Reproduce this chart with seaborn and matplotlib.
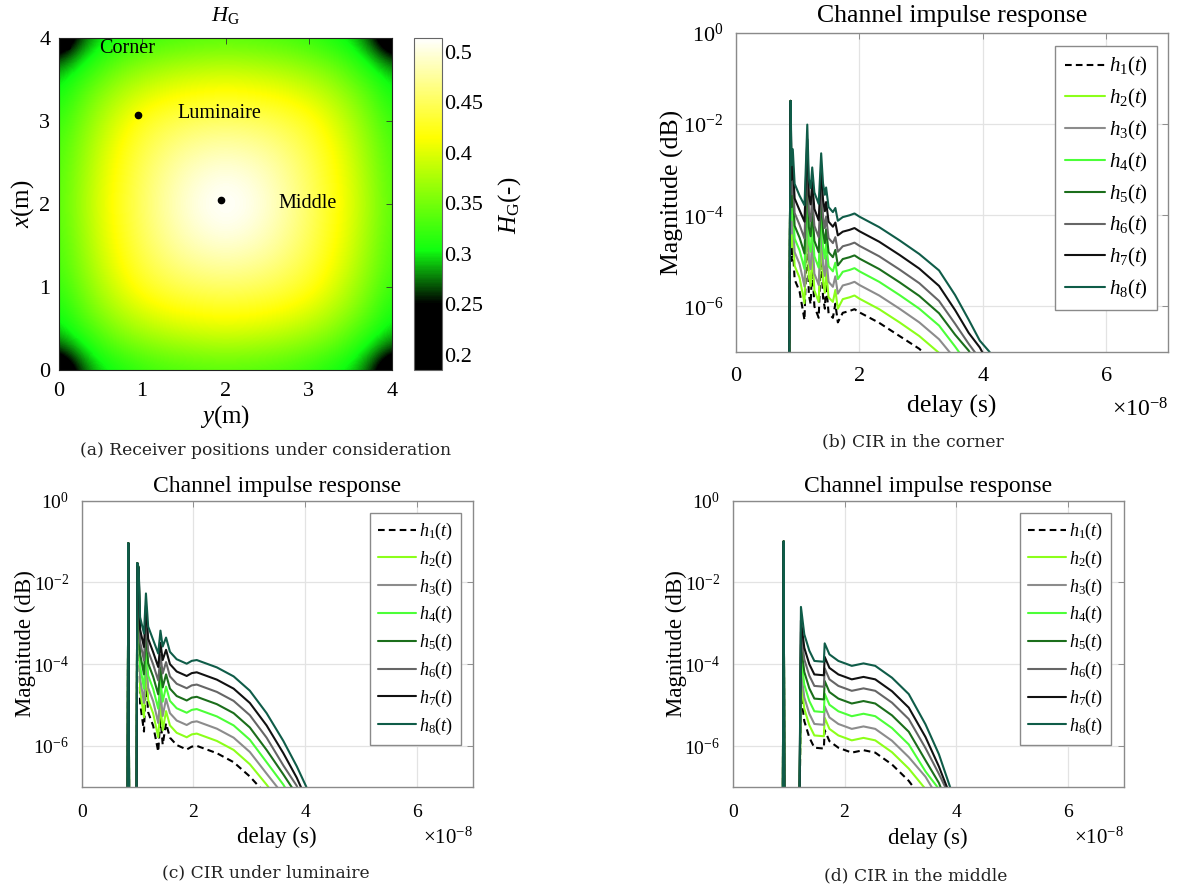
import numpy as np
import pandas as pd
import matplotlib
matplotlib.use("Agg")
import matplotlib.pyplot as plt
from matplotlib.colors import LinearSegmentedColormap
from matplotlib.ticker import FuncFormatter, NullLocator
import seaborn as sns

sns.set_theme(style="white")
plt.rcParams.update({
    "font.family": ["Liberation Serif", "DejaVu Serif"],
    "mathtext.fontset": "custom",
    "mathtext.rm": "Liberation Serif",
    "mathtext.it": "Liberation Serif:italic",
    "mathtext.bf": "Liberation Serif:bold",
    "axes.unicode_minus": False,
    "text.color": "black",
    "axes.labelcolor": "black",
    "xtick.color": "black",
    "ytick.color": "black",
})

# ---------------------------------------------------------------- data
# Channel gain H_G over the 4 m x 4 m receiver plane, one quadrant on a
# 0.25 m grid, indexed by distance (m) from the two nearest walls.
wall_dist = [0.0, 0.25, 0.5, 0.75, 1.0, 1.25, 1.5, 1.75, 2.0]
hg_quadrant = [
    [0.190, 0.262, 0.295, 0.308, 0.320, 0.328, 0.332, 0.335, 0.336],
    [0.262, 0.292, 0.318, 0.336, 0.348, 0.357, 0.362, 0.366, 0.368],
    [0.295, 0.318, 0.342, 0.364, 0.378, 0.388, 0.395, 0.399, 0.401],
    [0.308, 0.336, 0.364, 0.386, 0.403, 0.415, 0.422, 0.426, 0.428],
    [0.320, 0.348, 0.378, 0.403, 0.425, 0.438, 0.447, 0.452, 0.454],
    [0.328, 0.357, 0.388, 0.415, 0.438, 0.454, 0.466, 0.473, 0.476],
    [0.332, 0.362, 0.395, 0.422, 0.447, 0.466, 0.481, 0.490, 0.494],
    [0.335, 0.366, 0.399, 0.426, 0.452, 0.473, 0.490, 0.502, 0.508],
    [0.336, 0.368, 0.401, 0.428, 0.454, 0.476, 0.494, 0.508, 0.514],
]
room_size = 4.0
hg_ticks = [0.2, 0.25, 0.3, 0.35, 0.4, 0.45, 0.5]
hg_range = [0.185, 0.514]

receiver_names = ["Corner", "Luminaire", "Middle"]
receiver_y = [0.10, 0.95, 1.95]
receiver_x = [3.90, 3.07, 2.05]

curve_names = ["h1", "h2", "h3", "h4", "h5", "h6", "h7", "h8"]
curve_labels = [r"$\mathit{h}_{\mathit{%d}}\mathit{(t)}$" % k for k in range(1, 9)]
curve_colors = ["#000000", "#8CFF1A", "#8C8C8C", "#4CFF38",
                "#1B6E1B", "#666666", "#111111", "#0F5C48"]

# CIR in the corner: delay in units of 1e-8 s, magnitude as log10
corner_delay = [0.86, 0.885, 0.90, 0.92, 0.95, 1.03, 1.11, 1.155, 1.18, 1.21,
                1.235, 1.27, 1.34, 1.38, 1.41, 1.44, 1.46, 1.50, 1.57, 1.61,
                1.65, 1.73, 1.84, 1.92, 2.00, 2.32, 2.65, 2.97, 3.29, 3.55,
                3.77, 3.95, 4.11, 4.25]
corner_h1 = [-8, -1.49, -5.00, -4.65, -5.41, -5.67, -6.30, -4.11, -5.75, -5.95,
             -5.05, -6.00, -6.25, -4.74, -5.80, -6.05, -5.49, -6.15, -6.25, -5.94,
             -6.35, -6.14, -6.10, -6.06, -6.13, -6.36, -6.65, -6.93, -7.35, -7.80,
             -8.20, -8.60, -9.00, -9.40]
corner_h2 = [-8, -1.49, -4.70, -4.35, -5.11, -5.37, -5.93, -3.81, -5.35, -5.55,
             -4.75, -5.65, -5.90, -4.44, -5.45, -5.70, -5.19, -5.80, -5.90, -5.64,
             -6.05, -5.84, -5.80, -5.76, -5.83, -6.06, -6.35, -6.65, -7.02, -7.50,
             -7.90, -8.30, -8.70, -9.00]
corner_h3 = [-8, -1.49, -4.40, -4.05, -4.81, -5.07, -5.56, -3.51, -4.98, -5.18,
             -4.45, -5.28, -5.53, -4.14, -5.08, -5.33, -4.89, -5.46, -5.57, -5.34,
             -5.72, -5.54, -5.50, -5.46, -5.53, -5.76, -6.05, -6.35, -6.72, -7.15,
             -7.60, -8.00, -8.40, -8.80]
corner_h4 = [-8, -1.49, -4.10, -3.75, -4.51, -4.77, -5.18, -3.21, -4.60, -4.80,
             -4.15, -4.90, -5.15, -3.84, -4.70, -4.95, -4.59, -5.12, -5.23, -5.04,
             -5.40, -5.24, -5.20, -5.16, -5.23, -5.46, -5.75, -6.05, -6.42, -6.88,
             -7.30, -7.80, -8.20, -8.60]
corner_h5 = [-8, -1.49, -3.82, -3.47, -4.23, -4.49, -4.84, -2.93, -4.26, -4.46,
             -3.87, -4.56, -4.81, -3.56, -4.36, -4.61, -4.31, -4.81, -4.92, -4.76,
             -5.10, -4.96, -4.92, -4.88, -4.95, -5.18, -5.47, -5.77, -6.15, -6.62,
             -6.97, -7.40, -7.80, -8.20]
corner_h6 = [-8, -1.49, -3.54, -3.19, -3.95, -4.21, -4.51, -2.65, -3.93, -4.13,
             -3.59, -4.23, -4.48, -3.28, -4.03, -4.28, -4.03, -4.50, -4.61, -4.48,
             -4.80, -4.68, -4.64, -4.60, -4.67, -4.90, -5.19, -5.49, -5.88, -6.38,
             -6.82, -7.15, -7.60, -8.00]
corner_h7 = [-8, -1.49, -3.22, -2.87, -3.63, -3.89, -4.14, -2.33, -3.56, -3.76,
             -3.27, -3.86, -4.11, -2.96, -3.66, -3.91, -3.71, -4.14, -4.25, -4.16,
             -4.44, -4.36, -4.32, -4.28, -4.35, -4.58, -4.87, -5.17, -5.55, -6.08,
             -6.58, -6.90, -7.30, -8.00]
corner_h8 = [-8, -1.49, -2.90, -2.55, -3.31, -3.57, -3.78, -2.01, -3.20, -3.40,
             -2.95, -3.50, -3.75, -2.64, -3.30, -3.55, -3.39, -3.82, -3.93, -3.84,
             -4.12, -4.04, -4.00, -3.96, -4.03, -4.26, -4.55, -4.85, -5.21, -5.75,
             -6.29, -6.75, -7.00, -7.60]

# CIR under the luminaire
lum_delay = [0.82, 0.835, 0.85, 0.98, 0.996, 1.02, 1.045, 1.115, 1.15, 1.19,
             1.28, 1.37, 1.41, 1.45, 1.51, 1.58, 1.70, 1.88, 1.97, 2.06,
             2.42, 2.72, 3.01, 3.31, 3.61, 3.85, 4.02, 4.12]
lum_h1 = [-8, -1.04, -8, -8, -1.53, -1.66, -4.95, -5.65, -4.37, -5.18,
          -5.51, -6.14, -5.28, -5.97, -5.45, -5.80, -5.98, -6.09, -6.02, -6.00,
          -6.18, -6.40, -6.75, -7.20, -7.80, -8.30, -8.80, -9.00]
lum_h2 = [-8, -1.04, -8, -8, -1.53, -1.66, -4.65, -5.30, -4.07, -4.88,
          -5.21, -5.79, -4.98, -5.62, -5.15, -5.50, -5.68, -5.79, -5.72, -5.70,
          -5.88, -6.10, -6.45, -6.95, -7.50, -8.00, -8.50, -8.80]
lum_h3 = [-8, -1.04, -8, -8, -1.53, -1.66, -4.35, -4.95, -3.77, -4.58,
          -4.91, -5.44, -4.68, -5.27, -4.85, -5.20, -5.38, -5.49, -5.42, -5.40,
          -5.58, -5.80, -6.15, -6.68, -7.20, -7.80, -8.30, -8.60]
lum_h4 = [-8, -1.04, -8, -8, -1.53, -1.66, -4.05, -4.60, -3.47, -4.28,
          -4.61, -5.09, -4.38, -4.92, -4.55, -4.90, -5.08, -5.19, -5.12, -5.10,
          -5.28, -5.50, -5.85, -6.40, -6.95, -7.50, -8.00, -8.40]
lum_h5 = [-8, -1.04, -8, -8, -1.53, -1.66, -3.75, -4.25, -3.17, -3.98,
          -4.31, -4.74, -4.08, -4.57, -4.25, -4.60, -4.78, -4.89, -4.82, -4.80,
          -4.98, -5.20, -5.55, -6.10, -6.70, -7.20, -7.80, -8.20]
lum_h6 = [-8, -1.04, -8, -8, -1.53, -1.66, -3.45, -3.91, -2.87, -3.68,
          -4.01, -4.40, -3.78, -4.23, -3.95, -4.30, -4.48, -4.59, -4.52, -4.50,
          -4.68, -4.90, -5.25, -5.80, -6.48, -6.98, -7.60, -8.00]
lum_h7 = [-8, -1.04, -8, -8, -1.53, -1.66, -3.15, -3.58, -2.57, -3.38,
          -3.71, -4.07, -3.48, -3.90, -3.65, -4.00, -4.18, -4.29, -4.22, -4.20,
          -4.38, -4.60, -4.95, -5.50, -6.18, -6.78, -7.30, -7.80]
lum_h8 = [-8, -1.04, -8, -8, -1.53, -1.66, -2.85, -3.25, -2.27, -3.08,
          -3.41, -3.74, -3.18, -3.57, -3.35, -3.70, -3.88, -3.99, -3.92, -3.90,
          -4.08, -4.30, -4.65, -5.20, -5.88, -6.50, -7.00, -7.40]

# CIR in the middle of the room
mid_delay = [0.895, 0.91, 0.925, 1.19, 1.22, 1.28, 1.37, 1.46, 1.63, 1.645,
             1.73, 1.89, 2.13, 2.34, 2.55, 2.85, 3.15, 3.45, 3.69, 3.89, 3.98]
mid_h1 = [-8, -1.0, -8, -8, -4.72, -5.39, -5.79, -6.04, -6.06, -5.61,
          -5.88, -6.04, -6.16, -6.10, -6.16, -6.45, -6.85, -7.40, -8.00, -8.60, -9.00]
mid_h2 = [-8, -1.0, -8, -8, -4.42, -5.09, -5.49, -5.74, -5.76, -5.31,
          -5.58, -5.74, -5.86, -5.80, -5.86, -6.15, -6.55, -7.05, -7.60, -8.20, -8.60]
mid_h3 = [-8, -1.0, -8, -8, -4.14, -4.81, -5.21, -5.46, -5.48, -5.03,
          -5.30, -5.46, -5.58, -5.52, -5.58, -5.87, -6.27, -6.75, -7.30, -8.00, -8.40]
mid_h4 = [-8, -1.0, -8, -8, -3.83, -4.50, -4.90, -5.15, -5.17, -4.72,
          -4.99, -5.15, -5.27, -5.21, -5.27, -5.56, -5.96, -6.62, -7.05, -7.90, -8.20]
mid_h5 = [-8, -1.0, -8, -8, -3.52, -4.19, -4.59, -4.84, -4.86, -4.41,
          -4.68, -4.84, -4.96, -4.90, -4.96, -5.25, -5.65, -6.35, -6.90, -7.60, -8.00]
mid_h6 = [-8, -1.0, -8, -8, -3.21, -3.88, -4.28, -4.53, -4.55, -4.10,
          -4.37, -4.53, -4.65, -4.59, -4.65, -4.94, -5.34, -6.05, -6.68, -7.25, -7.70]
mid_h7 = [-8, -1.0, -8, -8, -2.93, -3.60, -4.00, -4.25, -4.27, -3.82,
          -4.09, -4.25, -4.37, -4.31, -4.37, -4.66, -5.06, -5.78, -6.50, -7.20, -7.70]
mid_h8 = [-8, -1.0, -8, -8, -2.60, -3.27, -3.67, -3.92, -3.94, -3.49,
          -3.76, -3.92, -4.04, -3.98, -4.04, -4.33, -4.73, -5.47, -6.20, -7.00, -7.40]

# ---------------------------------------------------------------- figure
W, H = 1186, 891
fig = plt.figure(figsize=(W / 100, H / 100), dpi=100)


def box(left, top, right, bottom):
    return [left / W, 1 - bottom / H, (right - left) / W, (bottom - top) / H]


# ---- (a) channel gain map
ax_a = fig.add_axes(box(58.7, 37.7, 392.3, 370))
cax = fig.add_axes(box(414, 37.7, 441.7, 370))

hg_cmap = LinearSegmentedColormap.from_list(
    "hg", [(0.0, "#000000"), (0.20, "#000000"), (0.36, "#10FF10"),
           (0.70, "#FFFF00"), (1.0, "#FFFFFF")])

q = np.array(hg_quadrant)
n = len(wall_dist)
mirror = np.concatenate([np.arange(n), np.arange(n - 2, -1, -1)])
field = q[np.ix_(mirror, mirror)]
step = wall_dist[1] - wall_dist[0]
img = ax_a.imshow(field, origin="lower", cmap=hg_cmap,
                  vmin=hg_range[0], vmax=hg_range[1],
                  extent=(-step / 2, room_size + step / 2,
                          -step / 2, room_size + step / 2),
                  interpolation="bicubic", aspect="auto")
ax_a.plot(receiver_y, receiver_x, "o", color="black", ms=4.5, zorder=3)
label_pos = [(0.48, 3.864), (1.42, 3.09), (2.63, 2.007)]
for name, (ly, lx) in zip(receiver_names, label_pos):
    ax_a.text(ly, lx, name, ha="left", va="center", fontsize=14.5)
ax_a.set_xlim(0, room_size)
ax_a.set_ylim(0, room_size)
ax_a.set_xticks(range(5))
ax_a.set_yticks(range(5))
ax_a.tick_params(direction="in", length=4, width=0.6, labelsize=16,
                 top=True, right=True, pad=6, color="#333333")
ax_a.tick_params(axis="x", pad=9)
ax_a.set_xlabel("$y$(m)", fontsize=18, labelpad=1)
ax_a.set_ylabel("$x$(m)", fontsize=18, labelpad=2)
ax_a.set_title(r"$H_{\mathrm{G}}$", fontsize=16, pad=12)
for s in ax_a.spines.values():
    s.set_color("#222222")
    s.set_linewidth(0.8)

cb = fig.colorbar(img, cax=cax, ticks=hg_ticks)
cb.ax.set_yticklabels([f"{t:g}" for t in hg_ticks])
cax.tick_params(direction="in", length=3, width=0.6, labelsize=16,
                left=True, right=True, pad=2, color="#555555")
cb.outline.set_edgecolor("#666666")
cb.outline.set_linewidth(0.8)
fig.text(510 / W, 1 - 205 / H, r"$H_{\mathrm{G}}$(-)", rotation=90,
         ha="center", va="center", fontsize=18)


# ---- (b)-(d) channel impulse responses
def cir_frame(delay, curves):
    parts = []
    for name, logmag in zip(curve_names, curves):
        parts.append(pd.DataFrame({
            "delay": np.asarray(delay, float) * 1e-8,
            "mag": 10.0 ** np.asarray(logmag, float),
            "curve": name,
        }))
    return pd.concat(parts, ignore_index=True)


def cir_panel(ax, df, fs_tick, fs_label, fs_title, fs_leg, leg_anchor,
              leg_spacing, handle_len, title_pad, xpad, xlabelpad, ylabelpad):
    dashes = {n: "" for n in curve_names}
    dashes["h1"] = (3.2, 2.0)
    sns.lineplot(data=df, x="delay", y="mag", hue="curve", style="curve",
                 hue_order=curve_names, style_order=curve_names,
                 palette=dict(zip(curve_names, curve_colors)), dashes=dashes,
                 sort=False, estimator=None, lw=1.5, legend=False, ax=ax)
    ax.set_yscale("log")
    ax.set_ylim(1e-7, 1)
    ax.set_xlim(0, 7e-8)
    ax.set_xticks([0, 2e-8, 4e-8, 6e-8])
    ax.xaxis.set_major_formatter(FuncFormatter(lambda v, p: f"{v * 1e8:.0f}"))
    ax.set_yticks([1, 1e-2, 1e-4, 1e-6])
    ax.yaxis.set_minor_locator(NullLocator())
    ax.grid(True, color="#E3E3E3", lw=0.9)
    ax.set_axisbelow(True)
    ax.tick_params(direction="in", length=4, width=0.6, labelsize=fs_tick,
                   top=True, right=True, color="#808080")
    ax.tick_params(axis="x", pad=xpad)
    ax.tick_params(axis="y", pad=9)
    for s in ax.spines.values():
        s.set_color("#8A8A8A")
        s.set_linewidth(1.0)
    ax.set_xlabel("delay (s)", fontsize=fs_label, labelpad=xlabelpad)
    ax.set_ylabel("Magnitude (dB)", fontsize=fs_label, labelpad=ylabelpad)
    ax.set_title("Channel impulse response", fontsize=fs_title, pad=title_pad)
    ax.text(1.0, -0.18, r"$\times10^{-8}$", transform=ax.transAxes,
            ha="right", va="center", fontsize=fs_tick + 1)
    lines = ax.get_lines()[:len(curve_names)]
    leg = ax.legend(lines, curve_labels, loc="upper right",
                    bbox_to_anchor=leg_anchor, borderaxespad=0,
                    fontsize=fs_leg, frameon=True, fancybox=False,
                    framealpha=1, edgecolor="#8A8A8A",
                    handlelength=handle_len, handletextpad=0.15,
                    labelspacing=leg_spacing, borderpad=0.45)
    leg.get_frame().set_linewidth(1.0)


ax_b = fig.add_axes(box(736, 33, 1168, 352))
cir_panel(ax_b, cir_frame(corner_delay, [corner_h1, corner_h2, corner_h3, corner_h4,
                                         corner_h5, corner_h6, corner_h7, corner_h8]),
          fs_tick=16, fs_label=18.5, fs_title=18.5, fs_leg=15,
          leg_anchor=(0.9745, 0.959), leg_spacing=0.42, handle_len=1.95,
          title_pad=8, xpad=11, xlabelpad=6, ylabelpad=-1)

ax_c = fig.add_axes(box(81.7, 500.7, 472.7, 786.7))
cir_panel(ax_c, cir_frame(lum_delay, [lum_h1, lum_h2, lum_h3, lum_h4,
                                      lum_h5, lum_h6, lum_h7, lum_h8]),
          fs_tick=14, fs_label=16.5, fs_title=17, fs_leg=13,
          leg_anchor=(0.970, 0.958), leg_spacing=0.37, handle_len=2.1,
          title_pad=6, xpad=12.5, xlabelpad=4, ylabelpad=-2)

ax_d = fig.add_axes(box(732.8, 500.5, 1123.8, 787))
cir_panel(ax_d, cir_frame(mid_delay, [mid_h1, mid_h2, mid_h3, mid_h4,
                                      mid_h5, mid_h6, mid_h7, mid_h8]),
          fs_tick=14, fs_label=16.5, fs_title=17, fs_leg=13,
          leg_anchor=(0.967, 0.957), leg_spacing=0.37, handle_len=2.1,
          title_pad=6, xpad=12.5, xlabelpad=5, ylabelpad=-2)

# ---- sub-figure captions
cap_kw = dict(ha="center", va="center", fontsize=12.3, color="#222222",
              family="DejaVu Serif")
fig.text(265.5 / W, 1 - 450 / H, "(a) Receiver positions under consideration", **cap_kw)
fig.text(913 / W, 1 - 441.7 / H, "(b) CIR in the corner", **cap_kw)
fig.text(265.5 / W, 1 - 873 / H, "(c) CIR under luminaire", **cap_kw)
fig.text(916 / W, 1 - 876 / H, "(d) CIR in the middle", **cap_kw)

fig.savefig("out.png", dpi=100)
